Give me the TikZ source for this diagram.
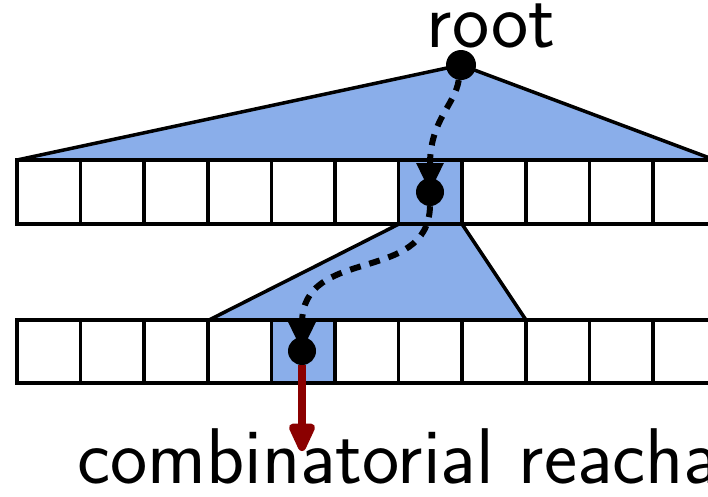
\documentclass[tikz,border=0pt]{standalone}
\usetikzlibrary{arrows.meta}
\definecolor{treeblue}{RGB}{138,174,234}
\definecolor{reachred}{RGB}{139,0,0}
\tikzset{
  cellbox/.style={draw=black, line width=3.5pt},
  outline/.style={draw=black, line width=3.5pt, line join=round},
  dotnode/.style={circle, fill=black, inner sep=0pt, minimum size=28pt},
  searchpath/.style={line width=6pt, dash pattern=on 11pt off 9pt, -{Triangle[width=26pt,length=29pt]}},
  reacharrow/.style={draw=reachred, line width=8pt, -{Triangle[width=28pt,length=34pt,round]}},
  bigtext/.style={font=\sffamily\fontsize{79}{86}\selectfont, inner sep=0pt}
}
\begin{document}
\begin{tikzpicture}[x=1pt,y=-1pt]
\path[use as bounding box, clip] (0,0) rectangle (708,496);
% top tree
\fill[treeblue] (461,65) -- (17,160) -- (715,160) -- cycle;
\draw[outline] (17,160) -- (461,65) -- (715,160);
% second tree
\fill[treeblue] (399,224) -- (462,224) -- (526,320) -- (209,320) -- cycle;
\draw[outline] (399,224) -- (209,320);
\draw[outline] (462,224) -- (526,320);
% highlighted cells
\fill[treeblue] (399,160) rectangle (462,224);
\fill[treeblue] (272,320) rectangle (336,383);
% arrays
\foreach \i in {0,...,11} {
  \draw[cellbox] ({17+63.6*\i},160) rectangle ({17+63.6*(\i+1)},224);
  \draw[cellbox] ({17+63.6*\i},320) rectangle ({17+63.6*(\i+1)},383);
}
% dots
\node[dotnode, minimum size=30pt] (root) at (461,65) {};
\node[dotnode] (mid) at (430,192) {};
\node[dotnode] (leaf) at (302,351) {};
\coordinate (reach) at (302,451);
% paths
\draw[searchpath] (root) .. controls (455,105) and (430,120) .. (mid.center);
\draw[searchpath] (mid.south) .. controls (428,285) and (302,245) .. (leaf.center);
\draw[reacharrow] (leaf) -- (reach);
% labels
\node[bigtext, anchor=base] (rootlabel) at (491,47) {root};
\node[bigtext, anchor=base west] (reachlabel) at (77,483) {combinatorial reachability};
\end{tikzpicture}
\end{document}
